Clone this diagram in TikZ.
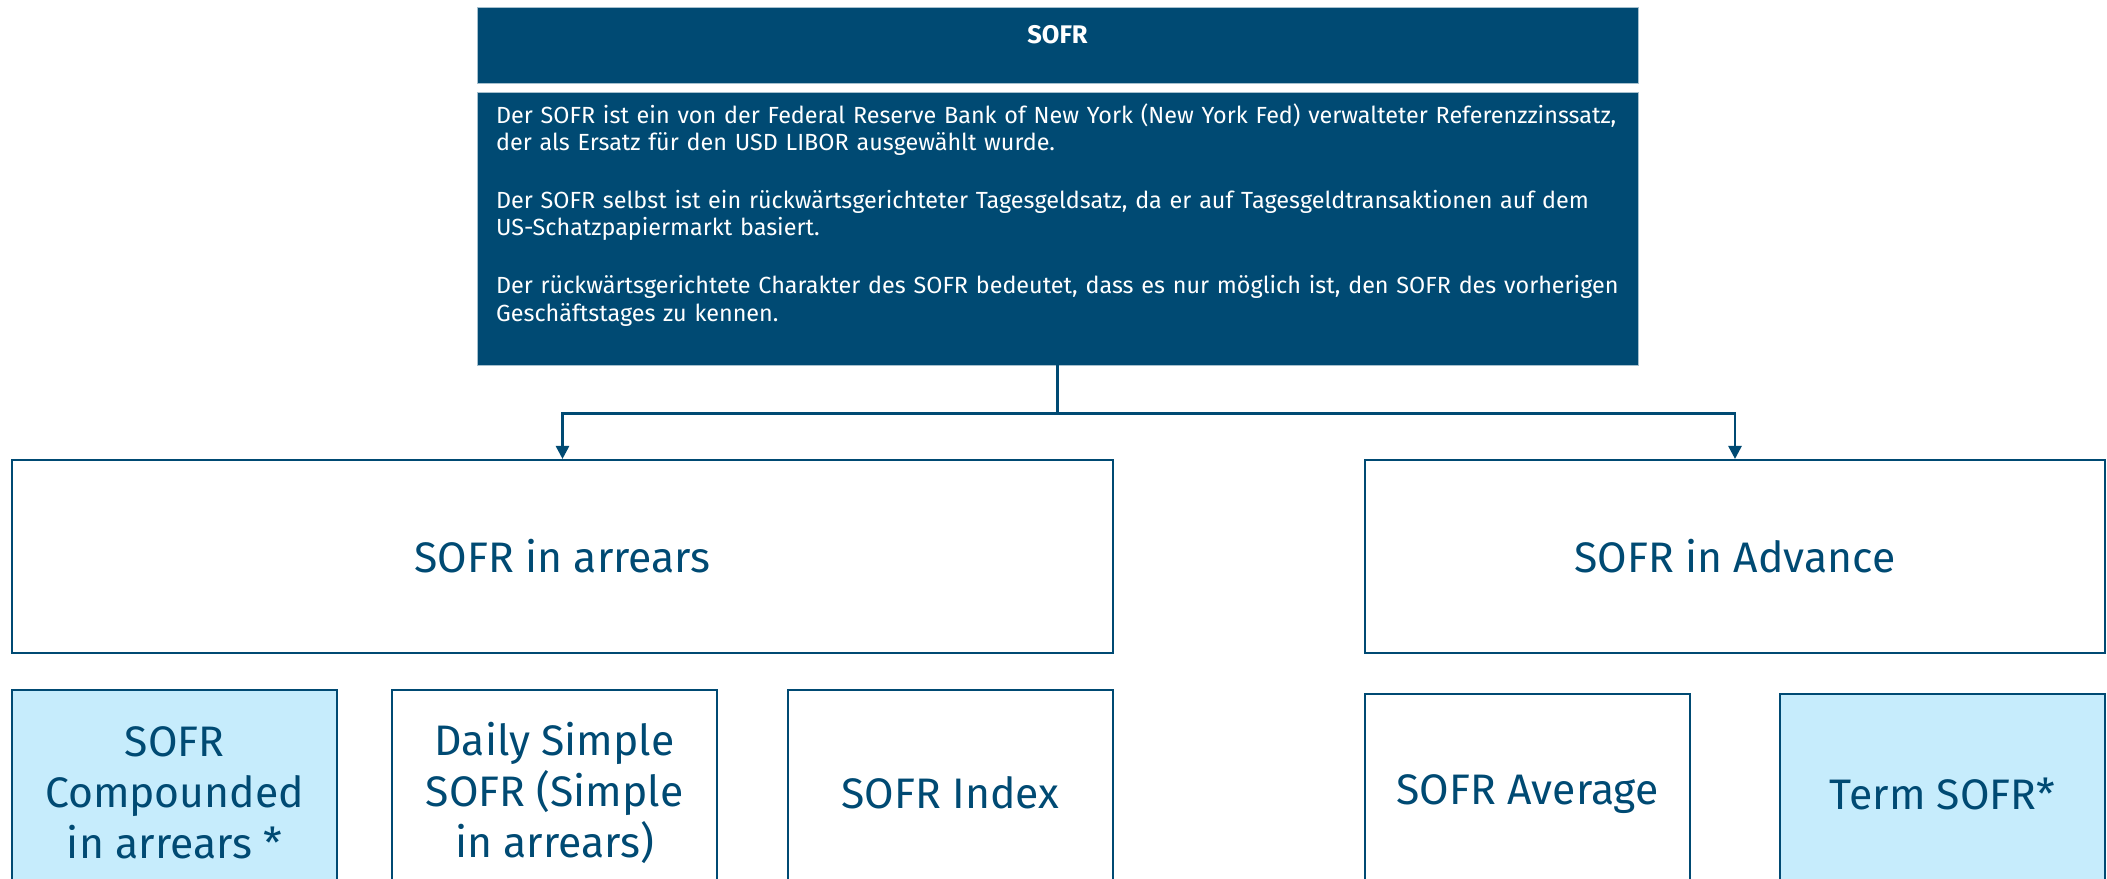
\documentclass[tikz,border=0pt]{standalone}
\usepackage{fontspec}
\setmainfont{Fira Sans}
\usetikzlibrary{arrows.meta, positioning}
\definecolor{sofrblue}{HTML}{004A73}
\definecolor{sofrlight}{HTML}{C6ECFC}

\begin{document}
\begin{tikzpicture}[
    x=0.02cm, y=-0.02cm,
    node distance=0.16cm,
    darkbox/.style={
        rectangle, fill=sofrblue, draw=sofrblue!35, line width=0.4pt,
        minimum width=23.22cm, inner sep=0pt
    },
    block/.style={
        rectangle, draw=sofrblue, line width=1.2pt,
        minimum height=3.86cm, align=center, text=sofrblue,
        font=\fontsize{24.3}{29}\selectfont
    },
    smallblock/.style={block, minimum width=6.5cm, minimum height=4.1cm},
    arrow/.style={-{Triangle[width=7.4pt, length=7.4pt]}, draw=sofrblue, line width=1.5pt},
]
\useasboundingbox (0,0) rectangle (2107,879);
\clip (0,0) rectangle (2107,879);

% Header and description
\node[darkbox, anchor=north, text=white, font=\fontsize{14.5}{16}\selectfont\bfseries,
      text height=0.72cm, text depth=0.80cm] (title) at (1057.5,7) {SOFR};
\node[darkbox, below=of title, minimum height=5.46cm] (body) {};
\node[anchor=north west, text width=22.6cm, align=left, inner sep=0pt, text=white,
      font=\fontsize{13.3}{15.4}\selectfont] (bodytext) at ([xshift=0.38cm, yshift=-0.24cm]body.north west)
    {Der SOFR ist ein von der Federal Reserve Bank of New York (New York Fed) verwalteter Referenzzinssatz,\\
     der als Ersatz f\"ur den USD LIBOR ausgew\"ahlt wurde.\\[0.62cm]
     Der SOFR selbst ist ein r\"uckw\"artsgerichteter Tagesgeldsatz, da er auf Tagesgeldtransaktionen auf dem\\
     US-Schatzpapiermarkt basiert.\\[0.62cm]
     Der r\"uckw\"artsgerichtete Charakter des SOFR bedeutet, dass es nur m\"oglich ist, den SOFR des vorherigen\\
     Gesch\"aftstages zu kennen.};

% Two branches
\node[block, minimum width=22.02cm] (arrears) at (562.5,556.5) {SOFR in arrears};
\node[block, minimum width=14.8cm] (advance) at (1735,556.5) {SOFR in Advance};

% Variants
\node[smallblock, fill=sofrlight, anchor=north west] (compounded) at ([yshift=-0.7cm]arrears.south west) {SOFR\\Compounded\\in arrears *};
\node[smallblock, right=1.06cm of compounded] (daily) {Daily Simple\\SOFR (Simple\\in arrears)};
\node[smallblock, anchor=north east] (index) at ([yshift=-0.7cm]arrears.south east) {SOFR Index};
\node[smallblock, minimum height=4.0cm, anchor=north west] (average) at ([yshift=-0.78cm]advance.south west) {SOFR Average};
\node[smallblock, minimum height=4.0cm, fill=sofrlight, anchor=north east] (term) at ([yshift=-0.78cm]advance.south east) {Term SOFR*};

% Connectors
\coordinate (split) at ([yshift=-0.96cm]body.south);
\draw[sofrblue, line width=1.5pt] (body.south) -- (split);
\draw[arrow] (split) -| (arrears.north);
\draw[arrow] (split) -| (advance.north);

\end{tikzpicture}
\end{document}
